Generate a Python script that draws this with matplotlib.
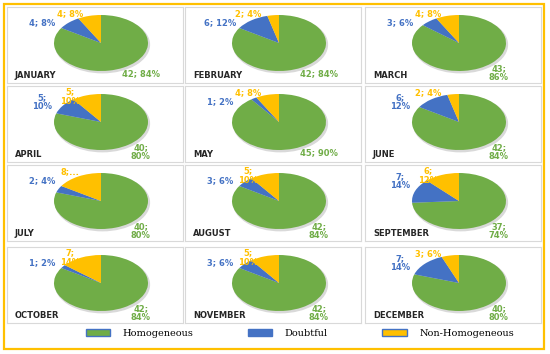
import numpy as np
import matplotlib
matplotlib.use('Agg')
import matplotlib.pyplot as plt
from matplotlib.patches import Rectangle, Ellipse, Patch

months = ['JANUARY', 'FEBRUARY', 'MARCH', 'APRIL', 'MAY', 'JUNE',
          'JULY', 'AUGUST', 'SEPTEMBER', 'OCTOBER', 'NOVEMBER', 'DECEMBER']
homogeneous = [42, 42, 43, 40, 45, 42, 40, 42, 37, 42, 42, 40]
doubtful = [4, 6, 3, 5, 1, 6, 2, 3, 7, 1, 3, 7]
non_homogeneous = [4, 2, 4, 5, 4, 2, 8, 5, 6, 7, 5, 3]

# data label texts as Excel printed them (some wrapped / truncated)
homog_labels = ['42; 84%', '42; 84%', '43;\n86%', '40;\n80%', '45; 90%', '42;\n84%',
                '40;\n80%', '42;\n84%', '37;\n74%', '42;\n84%', '42;\n84%', '40;\n80%']
doubt_labels = ['4; 8%', '6; 12%', '3; 6%', '5;\n10%', '1; 2%', '6;\n12%',
                '2; 4%', '3; 6%', '7;\n14%', '1; 2%', '3; 6%', '7;\n14%']
nonhom_labels = ['4; 8%', '2; 4%', '4; 8%', '5;\n10%', '4; 8%', '2; 4%',
                 '8;...', '5;\n10%', '6;\n12%', '7;\n14%', '5;\n10%', '3; 6%']

series_names = ['Homogeneous', 'Doubtful', 'Non-Homogeneous']
colors = ['#70AD47', '#4472C4', '#FFC000']

W, H = 550, 354
fig = plt.figure(figsize=(W / 100, H / 100), dpi=100)


def px_axes(x, y, w, h):
    return fig.add_axes([x / W, 1 - (y + h) / H, w / W, h / H])


col_left = [7, 185, 365]
row_top = [7, 86, 165, 247]
pw, ph = 176, 76
rx, ry = 47, 28          # pie half-width / half-height in px (tilted look)
cx_off, cy_off = 94, 36  # pie centre inside panel

for i, month in enumerate(months):
    r, c = divmod(i, 3)
    ax = px_axes(col_left[c], row_top[r], pw, ph)
    vals = [homogeneous[i], doubtful[i], non_homogeneous[i]]
    ax.add_patch(Ellipse((0.03, -0.06), 2.0, 2.0, color='#d9d9d9', zorder=0))
    wedges, _ = ax.pie(vals, colors=colors, startangle=90, counterclock=False,
                       radius=1, center=(0, 0), frame=True,
                       wedgeprops=dict(linewidth=0))
    ax.set_aspect('auto')
    ax.set_xlim(-cx_off / rx, (pw - cx_off) / rx)
    ax.set_ylim(-(ph - cy_off) / ry, cy_off / ry)
    ax.set_xticks([])
    ax.set_yticks([])
    for s in ax.spines.values():
        s.set_color('#D9D9D9')
        s.set_linewidth(0.8)

    texts = [homog_labels[i], doubt_labels[i], nonhom_labels[i]]
    for k, (w, t) in enumerate(zip(wedges, texts)):
        mid = (w.theta1 + w.theta2) / 2
        shift = 0.0
        if k == 0:
            ang, dist = -52, 1.38
        elif k == 1:
            ang, dist = max(mid + 17, 150), 1.45
        else:
            ang, dist = max(mid + 12, 122), 1.25
            if '\n' in t:
                shift = -0.15
        a = np.deg2rad(ang)
        ax.text(dist * np.cos(a), dist * np.sin(a) + shift, t, color=colors[k],
                fontsize=6, fontweight='bold', ha='center', va='center',
                linespacing=1.0)

    ax.text(0.045, 0.1, month, transform=ax.transAxes, fontsize=6,
            fontweight='bold', color='#262626', ha='left', va='center')

handles = [Patch(facecolor=col, edgecolor='#4472C4', linewidth=1.0) for col in colors]
fig.legend(handles, series_names, loc='center', bbox_to_anchor=(0.545, 1 - 333 / H),
           ncol=3, frameon=False, prop=dict(family='DejaVu Serif', size=7),
           handlelength=2.5, handleheight=0.7, handletextpad=1.3,
           columnspacing=5.6)

fig.patches.append(Rectangle((4 / W, 1 - 349 / H), 540 / W, 345 / H,
                             transform=fig.transFigure, fill=False,
                             edgecolor='#FFC000', linewidth=1.6))

fig.savefig('out.png', dpi=100)
